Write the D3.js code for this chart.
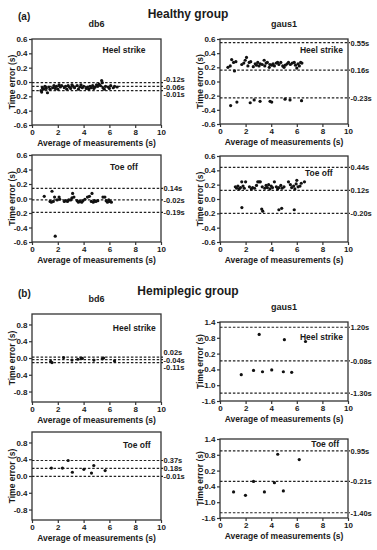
<!DOCTYPE html>
<html>
<head>
<meta charset="utf-8">
<script src="https://cdn.jsdelivr.net/npm/d3@7"></script>
<style>
  body { margin: 0; background: #fff; }
  text { font-family: "Liberation Sans", Arial, sans-serif; font-weight: bold; fill: #1a1a1a; }
</style>
</head>
<body>
<div id="chart"></div>
<script>
// ---- data ----
const xTicks = [0, 2, 4, 6, 8, 10];
const healthyTicks = [-0.6, -0.4, -0.2, 0, 0.2, 0.4, 0.6];
const bd6Ticks = [-0.8, -0.4, 0, 0.4, 0.8];
const gausHemiTicks = [-1.6, -1.0, -0.4, 0.2, 0.8, 1.4];

// healthy db6, heel strike  [average, error]
const db6Heel = [[0.7,-0.12],[0.75,-0.14],[0.8,-0.08],[0.9,-0.1],[1.0,-0.06],[1.1,-0.09],[1.2,-0.15],[1.3,-0.07],[1.4,-0.1],
  [1.6,-0.08],[1.7,-0.05],[1.8,-0.09],[1.9,-0.06],[2.0,-0.1],[2.1,-0.04],[2.2,-0.07],[2.3,-0.05],[2.5,-0.08],[2.6,-0.06],
  [2.7,-0.1],[2.8,-0.05],[2.9,-0.07],[3.0,-0.09],[3.1,-0.04],[3.2,-0.06],[3.3,-0.08],[3.5,-0.05],[3.6,-0.1],[3.7,-0.07],
  [3.8,-0.04],[3.9,-0.08],[4.0,-0.06],[4.2,-0.09],[4.3,-0.07],[4.4,-0.1],[4.5,-0.06],[4.6,-0.08],[4.7,-0.05],[4.8,-0.09],
  [4.9,-0.07],[5.0,-0.04],[5.1,-0.06],[5.2,-0.03],[5.3,-0.05],[5.4,0.02],[5.45,-0.01],[5.5,-0.08],[5.6,-0.1],[5.7,-0.06],
  [5.9,-0.07],[6.0,-0.09],[6.1,-0.05],[6.3,-0.08],[6.4,-0.06],[6.6,-0.07]];
const db6HeelLines = [-0.01, -0.06, -0.12];
const db6HeelLabels = ["-0.12s", "-0.06s", "-0.01s"];

// healthy gaus1, heel strike
const gausHeel = [[0.62,0.2],[0.8,0.22],[0.91,0.31],[1.06,0.27],[1.13,0.15],[1.24,0.28],[1.7,0.24],[1.86,0.26],[1.97,0.3],
  [2.07,0.34],[2.18,0.22],[2.28,0.27],[2.4,0.28],[2.6,0.21],[2.75,0.25],[2.85,0.23],[2.95,0.27],[3.05,0.22],[3.15,0.25],
  [3.3,0.24],[3.45,0.3],[3.5,0.22],[3.6,0.26],[3.7,0.27],[3.85,0.2],[3.9,0.24],[4.05,0.23],[4.15,0.25],[4.25,0.22],
  [4.4,0.26],[4.5,0.27],[4.6,0.24],[4.75,0.27],[4.9,0.22],[5.0,0.2],[5.1,0.23],[5.25,0.25],[5.35,0.27],[5.5,0.24],
  [5.65,0.26],[5.8,0.27],[5.9,0.23],[6.0,0.19],[6.1,0.25],[6.2,0.22],[6.3,0.27],[6.4,0.26],
  [0.83,-0.34],[1.32,-0.29],[2.36,-0.3],[2.67,-0.26],[3.13,-0.28],[3.91,-0.28],[4.04,-0.29],[5.08,-0.25],[5.47,-0.26],[6.37,-0.27]];
const gausHeelLines = [0.55, 0.16, -0.23];
const gausHeelLabels = ["0.55s", "0.16s", "-0.23s"];

// healthy db6, toe off
const db6Toe = [[0.95,0.03],[1.4,-0.04],[1.5,-0.05],[1.55,0.1],[1.65,-0.04],[1.75,0.02],[1.8,-0.52],[1.95,-0.02],[2.1,0.02],
  [2.15,-0.01],[2.5,-0.04],[2.6,-0.03],[2.75,-0.04],[2.85,-0.02],[3.0,-0.02],[3.1,0.01],[3.15,0.07],[3.25,0.02],[3.5,-0.03],
  [3.6,-0.05],[3.7,-0.04],[3.85,-0.05],[3.95,-0.03],[4.1,-0.01],[4.3,0.02],[4.45,0.03],[4.6,-0.04],[4.65,0.07],[4.75,-0.05],
  [4.85,-0.03],[4.95,-0.04],[5.1,-0.03],[5.5,0.02],[5.65,0.02],[5.75,-0.03],[5.85,-0.05],[5.95,-0.02],[6.05,-0.04],[6.15,-0.05]];
const db6ToeLines = [0.14, -0.02, -0.19];
const db6ToeLabels = ["0.14s", "-0.02s", "-0.19s"];

// healthy gaus1, toe off
const gausToe = [[1.2,0.17],[1.3,0.15],[1.4,0.18],[1.5,0.14],[1.6,0.16],[1.7,0.24],[1.8,0.18],[1.9,0.15],[2.0,0.24],[2.3,0.17],
  [2.45,0.14],[2.55,0.16],[2.7,0.15],[2.85,0.19],[2.95,0.24],[3.05,0.24],[3.15,0.24],[3.3,0.17],[3.5,0.15],[3.6,0.19],
  [3.7,0.16],[3.8,0.2],[3.9,0.14],[4.0,0.18],[4.1,0.16],[4.25,0.24],[4.4,0.17],[4.5,0.14],[4.6,0.16],[4.75,0.19],[4.85,0.15],
  [5.0,0.17],[5.35,0.24],[5.5,0.2],[5.6,0.16],[5.75,0.18],[5.85,0.14],[5.95,0.21],[6.0,0.26],[6.1,0.17],[6.25,0.18],
  [6.35,0.22],[6.6,0.24],
  [1.71,-0.12],[3.26,-0.14],[3.34,-0.17],[4.6,-0.15],[4.82,-0.13],[5.8,-0.15]];
const gausToeLines = [0.44, 0.12, -0.20];
const gausToeLabels = ["0.44s", "0.12s", "-0.20s"];

// hemiplegic bd6, heel strike
const bd6Heel = [[1.45,-0.08],[1.55,-0.11],[2.45,0.01],[3.1,-0.05],[3.55,-0.03],[3.8,0.0],[3.9,-0.01],[4.8,-0.05],
  [5.45,-0.02],[5.55,0.0],[6.4,-0.07]];
const bd6HeelLines = [0.02, -0.04, -0.11];
const bd6HeelLabels = ["0.02s", "-0.04s", "-0.11s"];

// hemiplegic gaus1, heel strike
const gausHemiHeel = [[3.06,0.93],[5.03,0.73],[6.68,0.66],[1.66,-0.6],[2.62,-0.44],[3.32,-0.49],[4.04,-0.42],[4.95,-0.49],[5.6,-0.51]];
const gausHemiHeelLines = [1.20, -0.08, -1.30];
const gausHemiHeelLabels = ["1.20s", "-0.08s", "-1.30s"];

// hemiplegic bd6, toe off
const bd6Toe = [[1.5,0.19],[2.36,0.19],[2.8,0.37],[3.13,0.09],[4.02,0.16],[4.61,0.07],[4.79,0.25],[5.67,0.13]];
const bd6ToeLines = [0.37, 0.18, -0.01];
const bd6ToeLabels = ["0.37s", "0.18s", "-0.01s"];

// hemiplegic gaus1, toe off
const gausHemiToe = [[1.06,-0.61],[1.99,-0.74],[2.62,-0.21],[3.47,-0.61],[4.25,-0.26],[4.51,0.82],[4.95,-0.57],[6.19,0.62]];
const gausHemiToeLines = [0.95, -0.21, -1.40];
const gausHemiToeLabels = ["0.95s", "-0.21s", "-1.40s"];

// ---- layout ----
const W = 377, H = 550;
const cols = [[32, 161], [220, 348]];

const panels = [
  { col: 0, top: 39, bottom: 125, dom: [-0.6, 0.6], ticks: healthyTicks, pts: db6Heel, lines: db6HeelLines, labels: db6HeelLabels, note: "Heel strike", noteAt: [8.8, 0.4], title: "db6" },
  { col: 1, top: 39, bottom: 124, dom: [-0.6, 0.6], ticks: healthyTicks, pts: gausHeel, lines: gausHeelLines, labels: gausHeelLabels, note: "Heel strike", noteAt: [9.6, 0.4], title: "gaus1" },
  { col: 0, top: 155, bottom: 242, dom: [-0.6, 0.6], ticks: healthyTicks, pts: db6Toe, lines: db6ToeLines, labels: db6ToeLabels, note: "Toe off", noteAt: [8.2, 0.4] },
  { col: 1, top: 156, bottom: 242, dom: [-0.6, 0.6], ticks: healthyTicks, pts: gausToe, lines: gausToeLines, labels: gausToeLabels, note: "Toe off", noteAt: [8.8, 0.32] },
  { col: 0, top: 314, bottom: 402, dom: [-1.05, 1.05], ticks: bd6Ticks, pts: bd6Heel, lines: bd6HeelLines, labels: bd6HeelLabels, note: "Heel strike", noteAt: [9.6, 0.65], title: "bd6" },
  { col: 1, top: 322, bottom: 401, dom: [-1.6, 1.4], ticks: gausHemiTicks, pts: gausHemiHeel, lines: gausHemiHeelLines, labels: gausHemiHeelLabels, note: "Heel strike", noteAt: [9.6, 0.72], title: "gaus1" },
  { col: 0, top: 432, bottom: 520, dom: [-1.05, 1.05], ticks: bd6Ticks, pts: bd6Toe, lines: bd6ToeLines, labels: bd6ToeLabels, note: "Toe off", noteAt: [9.2, 0.67] },
  { col: 1, top: 439, bottom: 518, dom: [-1.6, 1.4], ticks: gausHemiTicks, pts: gausHemiToe, lines: gausHemiToeLines, labels: gausHemiToeLabels, note: "Toe off", noteAt: [9.3, 1.1] }
];
const labelGap = 7.5;

const svg = d3.select("#chart")
  .append("svg")
  .attr("width", W)
  .attr("height", H)
  .style("background", "#fff");

// group headings
const headings = [
  { tag: "(a)", name: "Healthy group", y: 18 },
  { tag: "(b)", name: "Hemiplegic group", y: 295 }
];
headings.forEach(h => {
  svg.append("text").attr("x", 18).attr("y", h.y + 2).style("font-size", "10px").text(h.tag);
  svg.append("text").attr("x", 188).attr("y", h.y).attr("text-anchor", "middle").style("font-size", "12px").text(h.name);
});

const fmt1 = d => d.toFixed(1);

panels.forEach(p => {
  const [x0, x1] = cols[p.col];
  const x = d3.scaleLinear().domain([0, 10]).range([x0, x1]);
  const y = d3.scaleLinear().domain(p.dom).range([p.bottom, p.top]);
  const g = svg.append("g");

  if (p.title) {
    g.append("text")
      .attr("x", (x0 + x1) / 2)
      .attr("y", p.top - 12)
      .attr("text-anchor", "middle")
      .style("font-size", "9px")
      .text(p.title);
  }

  // frame
  g.append("rect")
    .attr("x", x0).attr("y", p.top)
    .attr("width", x1 - x0).attr("height", p.bottom - p.top)
    .attr("fill", "none").attr("stroke", "#333").attr("stroke-width", 1.3);

  // axes
  const ya = g.append("g")
    .attr("transform", `translate(${x0},0)`)
    .call(d3.axisLeft(y).tickValues(p.ticks).tickSize(3).tickPadding(1.5).tickFormat(fmt1));
  const xa = g.append("g")
    .attr("transform", `translate(0,${p.bottom})`)
    .call(d3.axisBottom(x).tickValues(xTicks).tickSize(3).tickPadding(1.5).tickFormat(d3.format("d")));
  [ya, xa].forEach(a => {
    a.select(".domain").remove();
    a.selectAll(".tick line").attr("stroke", "#333").attr("stroke-width", 1.2);
    a.selectAll("text").attr("fill", "#1a1a1a").style("font-size", "8px")
      .style("font-family", '"Liberation Sans", Arial, sans-serif').style("font-weight", "bold");
  });

  // axis titles
  g.append("text")
    .attr("x", (x0 + x1) / 2)
    .attr("y", p.bottom + 21)
    .attr("text-anchor", "middle")
    .style("font-size", "8.5px")
    .text("Average of measurements (s)");
  g.append("text")
    .attr("transform", `translate(${x0 - 17},${(p.top + p.bottom) / 2}) rotate(-90)`)
    .attr("text-anchor", "middle")
    .style("font-size", "8.5px")
    .text("Time error (s)");

  // limit lines
  g.selectAll(".lim")
    .data(p.lines)
    .enter()
    .append("line")
    .attr("x1", x0).attr("x2", x1 + 2)
    .attr("y1", d => y(d)).attr("y2", d => y(d))
    .attr("stroke", "#222").attr("stroke-width", 1.2)
    .attr("stroke-dasharray", "2.5,1.8");

  // labels, spread so they do not overlap
  const ys = p.lines.map(d => y(d)).sort((a, b) => a - b);
  const mid = d3.mean(ys);
  const spread = ys.map((v, i) => {
    const minSpan = labelGap * (ys.length - 1);
    const span = ys[ys.length - 1] - ys[0];
    return span >= minSpan ? v : mid + (i - (ys.length - 1) / 2) * labelGap;
  });
  g.selectAll(".limlab")
    .data(p.labels)
    .enter()
    .append("text")
    .attr("x", x1 + 2.5)
    .attr("y", (d, i) => spread[i] + 3)
    .style("font-size", "7.5px")
    .text(d => d);

  // points
  g.selectAll(".pt")
    .data(p.pts)
    .enter()
    .append("circle")
    .attr("cx", d => x(d[0]))
    .attr("cy", d => y(d[1]))
    .attr("r", 1.6)
    .attr("fill", "#111");

  // annotation
  g.append("text")
    .attr("x", x(p.noteAt[0]))
    .attr("y", y(p.noteAt[1]))
    .attr("text-anchor", "end")
    .style("font-size", "8.5px")
    .text(p.note);
});
</script>
</body>
</html>
